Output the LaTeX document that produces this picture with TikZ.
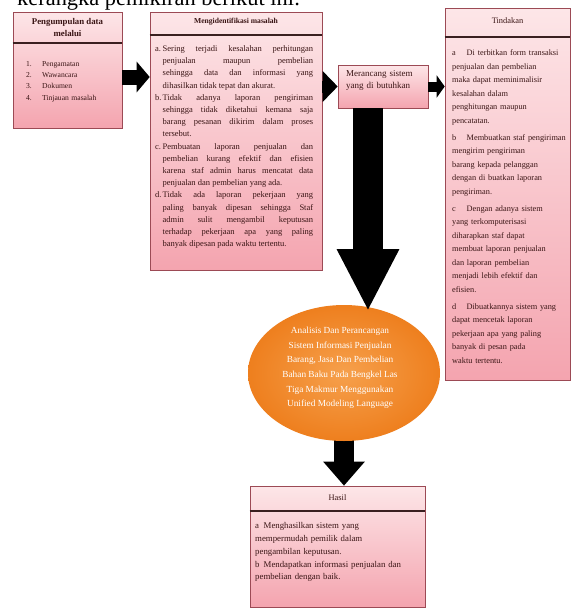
\documentclass[tikz,border=0pt]{standalone}
\usepackage{fontspec}
\setmainfont{Liberation Serif}
\usetikzlibrary{arrows.meta,shapes.geometric,shadows,calc}

\definecolor{boxline}{HTML}{9C4A55}
\definecolor{pinktop}{HTML}{FDE6E8}
\definecolor{pinkbot}{HTML}{F4A4AF}
\definecolor{divider}{HTML}{3A2020}
\definecolor{inktext}{HTML}{3A1515}
\definecolor{orangeA}{HTML}{F6A04C}
\definecolor{orangeB}{HTML}{EE7F1E}

\hbadness=10000
\newcommand{\hitem}[2]{\par\hangindent=#1\hangafter=1\noindent\makebox[#1][l]{#2}}

\tikzset{
  panel/.style={rectangle, draw=boxline, line width=0.6pt, inner sep=0pt,
    top color=pinktop, bottom color=pinkbot,
    drop shadow={opacity=0.25, shadow xshift=1.2pt, shadow yshift=-1.2pt}},
  rulebar/.style={draw=divider, line width=1.1pt},
  heading/.style={inner sep=0pt, text=inktext, align=center},
  bodytext/.style={inner sep=0pt, anchor=north west, text=inktext},
  fat/.style={draw=black, line width=#1}
}

\begin{document}
\begin{tikzpicture}[x=1pt,y=-1pt]
\useasboundingbox (0,0) rectangle (579,611);
\fill[white] (0,0) rectangle (579,611);

% leading sentence, cut by the page edge
\node[anchor=base west, inner sep=0pt, font=\fontsize{22.4}{22}\selectfont] (lead) at (17,5.5) {kerangka pemikiran berikut ini:};

% ---------- panels ----------
\node[panel, minimum width=109pt, minimum height=116pt] (collect) at (67.5,70) {};
\node[panel, minimum width=172pt, minimum height=258pt] (ident) at (236,141) {};
\node[panel, minimum width=90pt, minimum height=43pt] (design) at (383,86.5) {};
\node[panel, minimum width=125pt, minimum height=372pt] (action) at (507.5,194) {};
\node[panel, minimum width=175pt, minimum height=121pt] (result) at (337.5,546.5) {};

% header dividers
\draw[rulebar] (collect.west |- 0,43) -- (collect.east |- 0,43);
\draw[rulebar] (ident.west |- 0,35) -- (ident.east |- 0,35);
\draw[rulebar] (action.west |- 0,37) -- (action.east |- 0,37);
\draw[rulebar] (result.west |- 0,511) -- (result.east |- 0,511);

% ---------- headings ----------
\node[heading, font=\fontsize{8.8}{12}\selectfont\bfseries] (collecthead) at (67.5,27) {Pengumpulan data\\melalui};
\node[heading, font=\fontsize{7.6}{11}\selectfont\bfseries] (identhead) at (236,21.5) {Mengidentifikasi masalah};
\node[heading, font=\fontsize{8.4}{11}\selectfont] (actionhead) at (507.5,21) {Tindakan};
\node[heading, font=\fontsize{8.4}{11}\selectfont] (resulthead) at (337.5,498) {Hasil};

% ---------- panel texts ----------
\node[bodytext, text width=90pt, font=\fontsize{7.6}{11.2}\selectfont] (collectbody) at (26,55) {%
\hitem{16pt}{1.}Pengamatan
\hitem{16pt}{2.}Wawancara
\hitem{16pt}{3.}Dokumen
\hitem{16pt}{4.}Tinjauan masalah\par};

\node[bodytext, text width=158pt, align=justify, font=\fontsize{8.5}{12.2}\selectfont] (identbody) at (155,39) {%
\hitem{7.5pt}{a.}Sering terjadi kesalahan perhitungan\linebreak penjualan maupun pembelian\linebreak sehingga data dan informasi yang\linebreak dihasilkan tidak tepat dan akurat.
\hitem{7.5pt}{b.}Tidak adanya laporan pengiriman\linebreak sehingga tidak diketahui kemana saja\linebreak barang pesanan dikirim dalam proses\linebreak tersebut.
\hitem{7.5pt}{c.}Pembuatan laporan penjualan dan\linebreak pembelian kurang efektif dan efisien\linebreak karena staf admin harus mencatat data\linebreak penjualan dan pembelian yang ada.
\hitem{7.5pt}{d.}Tidak ada laporan pekerjaan yang\linebreak paling banyak dipesan sehingga Staf\linebreak admin sulit mengambil keputusan\linebreak terhadap pekerjaan apa yang paling\linebreak banyak dipesan pada waktu tertentu.\par};

\node[bodytext, text width=80pt, align=left, font=\fontsize{9}{12.4}\selectfont] (designtext) at (346,70) {Merancang sistem\\yang di butuhkan};

\node[bodytext, text width=116pt, align=left, font=\fontsize{8.3}{13.5}\selectfont] (actionbody) at (452,42) {%
\hitem{14.5pt}{a}Di terbitkan form transaksi\\penjualan dan pembelian\\maka dapat meminimalisir\\kesalahan dalam\\penghitungan maupun\\pencatatan.\par\vspace{3.5pt}
\hitem{14.5pt}{b}Membuatkan staf pengiriman\\mengirim pengiriman\\barang kepada pelanggan\\dengan di buatkan laporan\\pengiriman.\par\vspace{3.5pt}
\hitem{14.5pt}{c}Dengan adanya sistem\\yang terkomputerisasi\\diharapkan staf dapat\\membuat laporan penjualan\\dan laporan pembelian\\menjadi lebih efektif dan\\efisien.\par\vspace{3.5pt}
\hitem{14.5pt}{d}Dibuatkannya sistem yang\\dapat mencetak laporan\\pekerjaan apa yang paling\\banyak di pesan pada\\waktu tertentu.\par};

\node[bodytext, text width=168pt, align=left, font=\fontsize{8.8}{12.7}\selectfont] (resultbody) at (255,516) {%
\hitem{8.5pt}{a}Menghasilkan sistem yang\\mempermudah pemilik dalam\\pengambilan keputusan.
\hitem{8.5pt}{b}Mendapatkan informasi penjualan dan\\pembelian dengan baik.\par};

% ---------- block arrows ----------
\coordinate (ellc) at (344,373);
\draw[fat=20pt, -{Triangle[width=40pt,length=24pt]}] (ellc) -- (ellc |- result.north);

\node[ellipse, minimum width=192pt, minimum height=136pt, inner sep=0pt,
      inner color=orangeA, outer color=orangeB] (ell) at (ellc) {};
\node[heading, text=white, font=\fontsize{9.3}{14.6}\selectfont] (elltext) at (340,368)
  {Analisis Dan Perancangan\\Sistem Informasi Penjualan\\Barang, Jasa Dan Pembelian\\Bahan Baku Pada Bengkel Las\\Tiga Makmur Menggunakan\\Unified Modeling Language};

\draw[fat=15pt, -{Triangle[width=30pt,length=13pt]}] ([yshift=-7pt]collect.east) -- ([yshift=-7pt]collect.east -| ident.west);
\draw[fat=12pt, -{Triangle[width=30pt,length=15pt]}] (ident.east |- design.west) -- (design.west);
\draw[fat=10pt, -{Triangle[width=22pt,length=8pt]}] (design.east) -- (design.east -| action.west);
\coordinate (bigtip) at (368,311);
\draw[fat=30pt, -{Triangle[width=58pt,length=62pt]}] ([xshift=-15pt]design.south) -- (bigtip);
\end{tikzpicture}
\end{document}
